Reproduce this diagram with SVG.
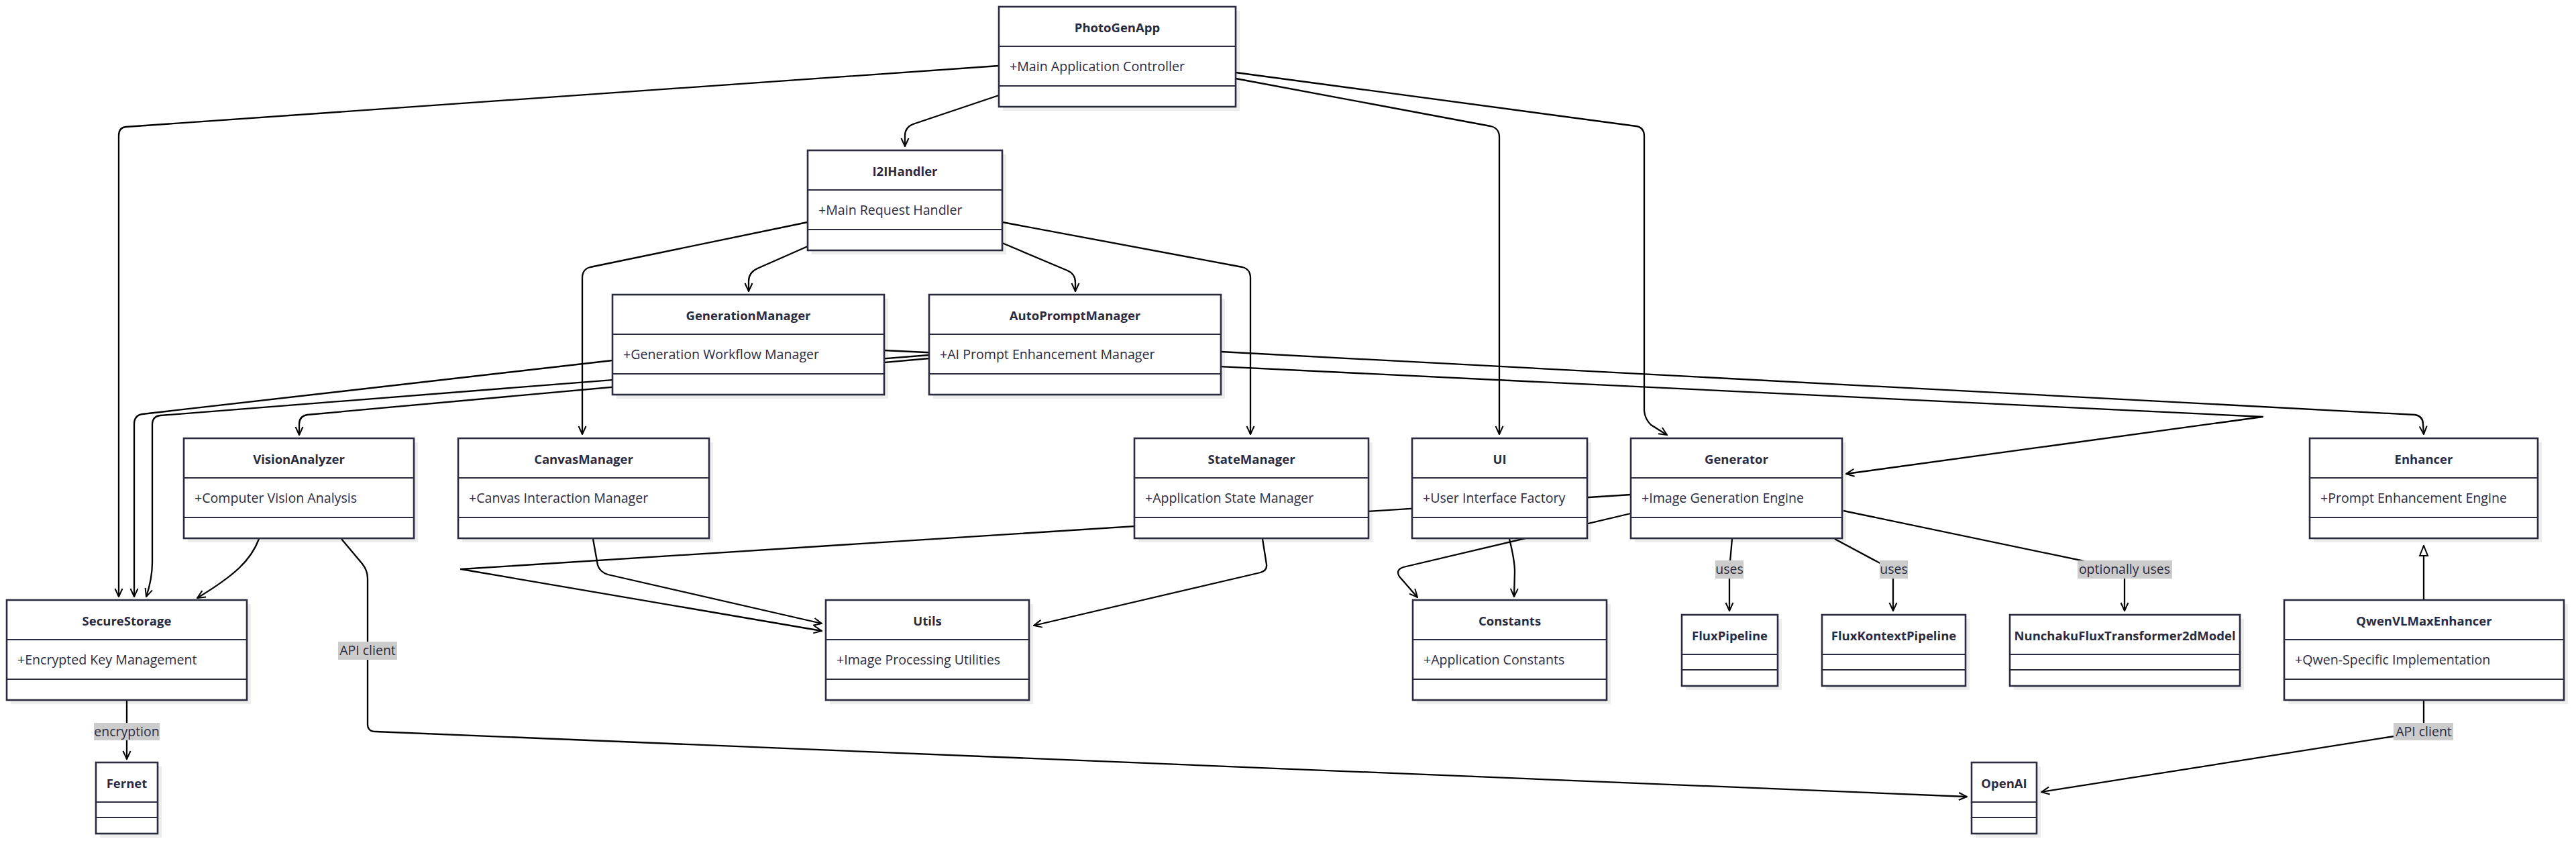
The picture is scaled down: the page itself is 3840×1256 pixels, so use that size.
<svg xmlns="http://www.w3.org/2000/svg" width="3840" height="1256" viewBox="0 0 3840 1256">
<defs>
<style>
.sh{fill:#000;opacity:.07}
.bx{fill:#fff;stroke:#2b2b40;stroke-width:2.6}
.dv{stroke:#2b2b40;stroke-width:2.2}
.t{font-family:"Open Sans","Liberation Sans",sans-serif;font-size:18.5px;font-weight:bold;fill:#2b2b40;text-anchor:middle}
.a{font-family:"Open Sans","Liberation Sans",sans-serif;font-size:19.6px;fill:#2b2b40}
.e{fill:none;stroke:#000;stroke-width:2.3;stroke-linejoin:round;marker-end:url(#arr)}
.lb rect{fill:#cccccc}
.lb text{font-family:"Open Sans","Liberation Sans",sans-serif;font-size:19.5px;fill:#2b2b40;text-anchor:middle}
</style>
<marker id="arr" viewBox="0 0 14 14" refX="13" refY="7" markerWidth="14" markerHeight="14" markerUnits="userSpaceOnUse" orient="auto">
<path d="M1,1.5 L13,7 L1,12.5" fill="none" stroke="#000" stroke-width="2"/>
</marker>
<marker id="tri" viewBox="0 0 18 18" refX="17" refY="9" markerWidth="18" markerHeight="18" markerUnits="userSpaceOnUse" orient="auto">
<path d="M2,3 L17,9 L2,15 Z" fill="#fff" stroke="#000" stroke-width="2"/>
</marker>
</defs>
<rect width="3840" height="1256" fill="#fff"/>
<g id="connectors">
<path class="e" d="M1489,98 L188,189 Q177,190 177,202 L177,889"/>
<path class="e" d="M1489,142 L1361,185 Q1349,190 1349,202 L1349,218"/>
<path class="e" d="M1842,117 L2222,188 Q2235,191 2235,204 L2235,647"/>
<path class="e" d="M1842,108 L2439,188 Q2451,190 2451,203 L2451,612 Q2452,624 2461,633 L2485,648"/>
<path class="e" d="M1204,367 L1129,400 Q1116,406 1116,419 L1116,434"/>
<path class="e" d="M1494,362 L1591,403 Q1603,408 1603,421 L1603,434"/>
<path class="e" d="M1204,331 L880,398 Q868,401 868,414 L868,647"/>
<path class="e" d="M1494,331 L1852,398 Q1864,401 1864,414 L1864,647"/>
<path class="e" d="M913,537 L212,617 Q200,619 200,632 L200,889"/>
<path class="e" d="M1385,529 L239,619 Q227,620 227,633 L227,838 Q227,862 218,889"/>
<path class="e" d="M1385,534 L458,618 Q446,620 446,632 L446,648"/>
<path class="e" d="M1318,522 L3373,621 L2752,706"/>
<path class="e" d="M1820,524 L3600,618 Q3612,620 3612,632 L3613,647"/>
<path class="e" d="M386,803 C374,835 350,857 294,891"/>
<path class="e" d="M509,803 L540,840 Q548,850 548,862 L548,1079 Q548,1090 560,1090 L2932,1187"/>
<path class="e" d="M884,803 L891,842 Q894,852 906,856 L1225,929"/>
<path class="e" d="M2431,737 L687,848 L1225,940"/>
<path class="e" d="M1882,803 L1888,841 Q1889,850 1879,853 L1541,932"/>
<path class="e" d="M2431,765 L2092,845 Q2080,849 2086,859 L2113,890"/>
<path class="e" d="M2250,803 Q2258,835 2258,852 L2257,889"/>
<path class="e" d="M2582,803 L2578,848 L2578,910"/>
<path class="e" d="M2735,803 L2808,842 Q2822,850 2822,862 L2822,910"/>
<path class="e" d="M2748,761 L3150,845 Q3167,849 3167,862 L3167,910"/>
<path class="e" d="M3613,894 L3613,813" style="marker-end:url(#tri)"/>
<path class="e" d="M3613,1043 L3613,1090 L3043,1180"/>
<path class="e" d="M189,1043 L189,1131"/>
<g class="lb"><rect x="140" y="1077" width="98" height="26"/><text x="189" y="1097">encryption</text></g>
<g class="lb"><rect x="504" y="956" width="88" height="27"/><text x="548" y="976">API client</text></g>
<g class="lb"><rect x="2557" y="835" width="42" height="27"/><text x="2578" y="855">uses</text></g>
<g class="lb"><rect x="2802" y="835" width="42" height="27"/><text x="2823" y="855">uses</text></g>
<g class="lb"><rect x="3097" y="835" width="141" height="27"/><text x="3167" y="855">optionally uses</text></g>
<g class="lb"><rect x="3568" y="1077" width="89" height="26"/><text x="3613" y="1097">API client</text></g>
</g>
<g id="PhotoGenApp" transform="translate(1489,10)"><rect class="sh" x="6" y="6" width="353" height="149"/><rect class="bx" width="353" height="149"/><line class="dv" x1="0" y1="59" x2="353" y2="59"/><line class="dv" x1="0" y1="118" x2="353" y2="118"/><text class="t" x="176.5" y="38">PhotoGenApp</text><text class="a" x="16" y="96">+Main Application Controller</text></g>
<g id="I2IHandler" transform="translate(1204,224)"><rect class="sh" x="6" y="6" width="290" height="149"/><rect class="bx" width="290" height="149"/><line class="dv" x1="0" y1="59" x2="290" y2="59"/><line class="dv" x1="0" y1="118" x2="290" y2="118"/><text class="t" x="145" y="38">I2IHandler</text><text class="a" x="16" y="96">+Main Request Handler</text></g>
<g id="GenerationManager" transform="translate(913,439)"><rect class="sh" x="6" y="6" width="405" height="149"/><rect class="bx" width="405" height="149"/><line class="dv" x1="0" y1="59" x2="405" y2="59"/><line class="dv" x1="0" y1="118" x2="405" y2="118"/><text class="t" x="202.5" y="38">GenerationManager</text><text class="a" x="16" y="96">+Generation Workflow Manager</text></g>
<g id="AutoPromptManager" transform="translate(1385,439)"><rect class="sh" x="6" y="6" width="435" height="149"/><rect class="bx" width="435" height="149"/><line class="dv" x1="0" y1="59" x2="435" y2="59"/><line class="dv" x1="0" y1="118" x2="435" y2="118"/><text class="t" x="217.5" y="38">AutoPromptManager</text><text class="a" x="16" y="96">+AI Prompt Enhancement Manager</text></g>
<g id="VisionAnalyzer" transform="translate(274,653)"><rect class="sh" x="6" y="6" width="343" height="149"/><rect class="bx" width="343" height="149"/><line class="dv" x1="0" y1="59" x2="343" y2="59"/><line class="dv" x1="0" y1="118" x2="343" y2="118"/><text class="t" x="171.5" y="38">VisionAnalyzer</text><text class="a" x="16" y="96">+Computer Vision Analysis</text></g>
<g id="CanvasManager" transform="translate(683,653)"><rect class="sh" x="6" y="6" width="374" height="149"/><rect class="bx" width="374" height="149"/><line class="dv" x1="0" y1="59" x2="374" y2="59"/><line class="dv" x1="0" y1="118" x2="374" y2="118"/><text class="t" x="187" y="38">CanvasManager</text><text class="a" x="16" y="96">+Canvas Interaction Manager</text></g>
<g id="StateManager" transform="translate(1691,653)"><rect class="sh" x="6" y="6" width="349" height="149"/><rect class="bx" width="349" height="149"/><line class="dv" x1="0" y1="59" x2="349" y2="59"/><line class="dv" x1="0" y1="118" x2="349" y2="118"/><text class="t" x="174.5" y="38">StateManager</text><text class="a" x="16" y="96">+Application State Manager</text></g>
<g id="UI" transform="translate(2105,653)"><rect class="sh" x="6" y="6" width="261" height="149"/><rect class="bx" width="261" height="149"/><line class="dv" x1="0" y1="59" x2="261" y2="59"/><line class="dv" x1="0" y1="118" x2="261" y2="118"/><text class="t" x="130.5" y="38">UI</text><text class="a" x="16" y="96">+User Interface Factory</text></g>
<g id="Generator" transform="translate(2431,653)"><rect class="sh" x="6" y="6" width="315" height="149"/><rect class="bx" width="315" height="149"/><line class="dv" x1="0" y1="59" x2="315" y2="59"/><line class="dv" x1="0" y1="118" x2="315" y2="118"/><text class="t" x="157.5" y="38">Generator</text><text class="a" x="16" y="96">+Image Generation Engine</text></g>
<g id="Enhancer" transform="translate(3443,653)"><rect class="sh" x="6" y="6" width="340" height="149"/><rect class="bx" width="340" height="149"/><line class="dv" x1="0" y1="59" x2="340" y2="59"/><line class="dv" x1="0" y1="118" x2="340" y2="118"/><text class="t" x="170" y="38">Enhancer</text><text class="a" x="16" y="96">+Prompt Enhancement Engine</text></g>
<g id="SecureStorage" transform="translate(10,894)"><rect class="sh" x="6" y="6" width="358" height="149"/><rect class="bx" width="358" height="149"/><line class="dv" x1="0" y1="59" x2="358" y2="59"/><line class="dv" x1="0" y1="118" x2="358" y2="118"/><text class="t" x="179" y="38">SecureStorage</text><text class="a" x="16" y="96">+Encrypted Key Management</text></g>
<g id="Utils" transform="translate(1231,894)"><rect class="sh" x="6" y="6" width="303" height="149"/><rect class="bx" width="303" height="149"/><line class="dv" x1="0" y1="59" x2="303" y2="59"/><line class="dv" x1="0" y1="118" x2="303" y2="118"/><text class="t" x="151.5" y="38">Utils</text><text class="a" x="16" y="96">+Image Processing Utilities</text></g>
<g id="Constants" transform="translate(2106,894)"><rect class="sh" x="6" y="6" width="289" height="149"/><rect class="bx" width="289" height="149"/><line class="dv" x1="0" y1="59" x2="289" y2="59"/><line class="dv" x1="0" y1="118" x2="289" y2="118"/><text class="t" x="144.5" y="38">Constants</text><text class="a" x="16" y="96">+Application Constants</text></g>
<g id="QwenVLMaxEnhancer" transform="translate(3405,894)"><rect class="sh" x="6" y="6" width="417" height="149"/><rect class="bx" width="417" height="149"/><line class="dv" x1="0" y1="59" x2="417" y2="59"/><line class="dv" x1="0" y1="118" x2="417" y2="118"/><text class="t" x="208.5" y="38">QwenVLMaxEnhancer</text><text class="a" x="16" y="96">+Qwen-Specific Implementation</text></g>
<g id="FluxPipeline" transform="translate(2507,916)"><rect class="sh" x="6" y="6" width="143" height="106"/><rect class="bx" width="143" height="106"/><line class="dv" x1="0" y1="59" x2="143" y2="59"/><line class="dv" x1="0" y1="82" x2="143" y2="82"/><text class="t" x="71.5" y="38">FluxPipeline</text></g>
<g id="FluxKontextPipeline" transform="translate(2716,916)"><rect class="sh" x="6" y="6" width="214" height="106"/><rect class="bx" width="214" height="106"/><line class="dv" x1="0" y1="59" x2="214" y2="59"/><line class="dv" x1="0" y1="82" x2="214" y2="82"/><text class="t" x="107" y="38">FluxKontextPipeline</text></g>
<g id="NunchakuFluxTransformer2dModel" transform="translate(2996,916)"><rect class="sh" x="6" y="6" width="343" height="106"/><rect class="bx" width="343" height="106"/><line class="dv" x1="0" y1="59" x2="343" y2="59"/><line class="dv" x1="0" y1="82" x2="343" y2="82"/><text class="t" x="171.5" y="38">NunchakuFluxTransformer2dModel</text></g>
<g id="Fernet" transform="translate(143,1136)"><rect class="sh" x="6" y="6" width="92" height="106"/><rect class="bx" width="92" height="106"/><line class="dv" x1="0" y1="59" x2="92" y2="59"/><line class="dv" x1="0" y1="82" x2="92" y2="82"/><text class="t" x="46" y="38">Fernet</text></g>
<g id="OpenAI" transform="translate(2939,1136)"><rect class="sh" x="6" y="6" width="97" height="106"/><rect class="bx" width="97" height="106"/><line class="dv" x1="0" y1="59" x2="97" y2="59"/><line class="dv" x1="0" y1="82" x2="97" y2="82"/><text class="t" x="48.5" y="38">OpenAI</text></g>
</svg>
